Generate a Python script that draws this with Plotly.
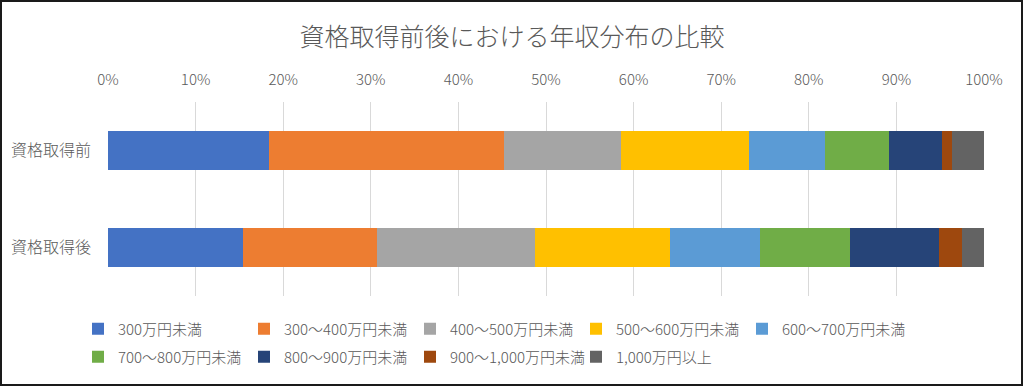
import plotly.graph_objects as go

categories = ["資格取得前", "資格取得後"]
series_names = [
    "300万円未満", "300〜400万円未満", "400〜500万円未満", "500〜600万円未満",
    "600〜700万円未満", "700〜800万円未満", "800〜900万円未満",
    "900〜1,000万円未満", "1,000万円以上",
]
before_values = [18.4, 26.8, 13.4, 14.6, 8.6, 7.3, 6.1, 1.2, 3.6]
after_values = [15.4, 15.3, 18.0, 15.4, 10.3, 10.3, 10.2, 2.6, 2.5]
colors = ["#4472C4", "#ED7D31", "#A5A5A5", "#FFC000", "#5B9BD5",
          "#70AD47", "#264478", "#9E480E", "#636363"]
tick_vals = [0, 10, 20, 30, 40, 50, 60, 70, 80, 90, 100]
tick_text = [f"{v}%" for v in tick_vals]

FONT = "Noto Sans CJK JP"
TXT = "#595959"
WT = 300

fig = go.Figure()
for i, name in enumerate(series_names):
    fig.add_trace(go.Bar(
        y=categories, x=[before_values[i], after_values[i]],
        name=name, orientation="h", marker=dict(color=colors[i], line=dict(width=0)),
        legend="legend" if i < 5 else "legend2",
    ))

L, R, T, B = 108, 40, 102, 91
W, H = 1024, 387
pw, ph = W - L - R, H - T - B


def py(p):
    return (H - B - p) / ph


def px(p):
    return (p - L) / pw


leg_common = dict(orientation="h", x=px(78), xanchor="left", yanchor="middle",
                  entrywidth=121, entrywidthmode="pixels", traceorder="normal",
                  font=dict(size=15, color=TXT, family=FONT, weight=WT),
                  bgcolor="rgba(0,0,0,0)")

fig.update_layout(
    width=W, height=H,
    barmode="stack", barnorm="percent", bargap=0.6,
    margin=dict(l=L, r=R, t=T, b=B),
    paper_bgcolor="white", plot_bgcolor="white",
    font=dict(family=FONT, color=TXT, size=15, weight=WT),
    title=dict(text="資格取得前後における年収分布の比較", x=0.5, xanchor="center",
               y=1 - 37 / H, yanchor="middle",
               font=dict(family=FONT, size=25, color=TXT, weight=WT)),
    xaxis=dict(side="top", range=[0, 100], tickvals=tick_vals, ticktext=tick_text,
               showgrid=True, gridcolor="#D9D9D9", gridwidth=1, zeroline=False,
               showline=False, ticks="",
               tickfont=dict(size=15, color=TXT, family=FONT, weight=WT),
               ticklabelstandoff=13, fixedrange=True),
    yaxis=dict(autorange="reversed", showgrid=False, zeroline=False, showline=False,
               ticks="", tickfont=dict(size=16, color=TXT, family=FONT, weight=WT),
               ticklabelstandoff=16),
    legend=dict(y=py(329), **leg_common),
    legend2=dict(y=py(357), **leg_common),
    showlegend=True,
    shapes=[dict(type="rect", xref="paper", yref="paper",
                 x0=px(1), x1=px(1022), y0=py(385), y1=py(1),
                 line=dict(color="#1a1a1a", width=2), fillcolor="rgba(0,0,0,0)",
                 layer="below")],
)

fig.write_html("out.html", config={"displayModeBar": False},
               post_script="document.body.style.margin='0';")
